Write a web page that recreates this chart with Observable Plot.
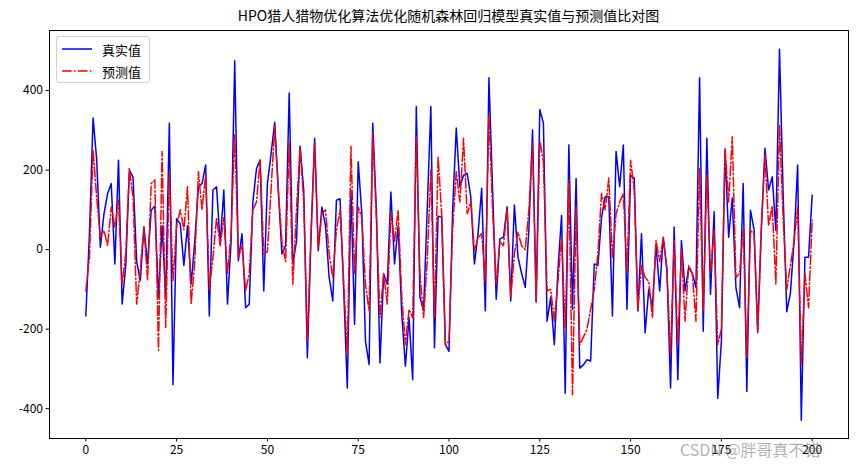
<!DOCTYPE html>
<html><head><meta charset="utf-8">
<script src="https://cdn.jsdelivr.net/npm/d3@7"></script>
<script src="https://cdn.jsdelivr.net/npm/@observablehq/plot@0.6"></script>
<style>
body{margin:0;background:#fff;}
#wrap{position:relative;width:865px;height:468px;font-family:"Noto Sans CJK SC","DejaVu Sans",sans-serif;color:#000;}
#title{position:absolute;left:49px;width:799px;top:7px;text-align:center;font-size:14px;line-height:16px;}
#legend{position:absolute;left:56px;top:36px;width:92px;height:45px;border:1px solid #d0d0d0;border-radius:3px;background:rgba(255,255,255,0.85);font-size:13px;}
.row{position:absolute;left:5px;height:18px;display:flex;align-items:center;}
.row span{margin-left:10px;}
#wm{position:absolute;left:680px;top:437px;font-size:16px;color:rgba(110,110,110,0.55);white-space:nowrap;}
</style>
</head><body>
<div id="wrap">
  <div id="chart"></div>
  <div id="title"></div>
  <div id="legend"></div>
  <div id="wm">CSDN @胖哥真不错</div>
</div>
<script>
const titleText = "HPO猎人猎物优化算法优化随机森林回归模型真实值与预测值比对图";
const seriesNames = ["真实值", "预测值"];
const xTicks = [0, 25, 50, 75, 100, 125, 150, 175, 200];
const yTicks = [-400, -200, 0, 200, 400];

const trueVals = [
-167,40,331,225,6,90,141,166,-36,225,
-137,-40,200,183,-30,-78,57,-36,99,110,
-120,60,-120,318,-340,78,65,-40,60,-87,
20,158,166,213,-167,150,158,14,150,-137,
20,475,-28,40,-146,-137,120,204,225,-104,
166,240,320,150,-11,10,394,-36,20,260,
150,-272,30,280,-3,107,60,-70,-129,124,
128,-100,-348,150,-188,221,90,-230,-289,318,
100,-285,-61,-87,145,-36,60,-163,-293,-171,
-327,360,-120,-154,100,360,-247,84,82,-239,
-256,100,306,158,187,192,133,-36,40,154,
-154,432,150,-125,27,31,107,-129,112,-19,
-60,-95,50,301,-129,352,318,-180,-120,-239,
-50,86,-361,263,-150,179,-298,-290,-277,-280,
-36,-40,80,133,133,-167,247,158,263,-150,
187,180,-154,40,-209,-100,-146,14,-104,31,
-50,-348,57,-327,23,-104,-45,-60,-95,432,
-205,280,-112,95,-374,-230,251,31,130,-95,
-146,166,-357,99,50,-205,50,255,150,183,
48,504,140,-156,-110,20,213,-429,-19,-19,
137];

const predVals = [
-104,-20,251,130,31,48,10,107,57,124,
-87,-10,204,132,-137,-50,57,-78,166,175,
-253,247,-196,196,-78,60,100,50,158,-137,
-30,196,100,190,-100,-20,80,10,80,-60,
40,289,-20,10,-104,-60,100,120,225,-11,
-5,150,310,150,20,-30,268,-87,100,259,
120,-230,40,268,6,90,100,-10,-70,50,
99,-80,-264,260,-60,107,80,-87,-154,293,
80,-171,-60,-137,90,20,99,-120,-239,-150,
-171,285,-60,-171,-30,200,-170,234,85,-239,
-230,50,196,120,280,90,120,-3,30,40,
-78,339,100,-87,20,10,107,-120,-10,44,
10,0,100,268,-133,276,220,-104,-100,-180,
-80,30,-196,175,-365,107,-240,-220,-200,-150,
-100,-10,141,100,180,-19,90,120,140,-53,
225,150,-150,-40,-70,-80,-171,23,-30,31,
-50,-264,23,-239,0,-180,-40,-60,-180,204,
-154,187,-60,48,-239,-200,255,120,284,-70,
-60,50,-272,48,40,-209,60,238,60,110,
-87,314,80,-100,-40,20,107,-289,-60,-146,
74];

const blue = "#0000ff", red = "#ff0000";
const dash = "9.6,2.4,1.5,2.4";

document.getElementById("title").textContent = titleText;

const chart = Plot.plot({
  width: 865, height: 468,
  marginTop: 30, marginLeft: 49, marginRight: 17, marginBottom: 30,
  style: {fontSize: "12px", fontFamily: '"Noto Sans CJK SC","DejaVu Sans",sans-serif', background: "white", color: "black"},
  x: {domain: [-10, 210], ticks: xTicks, tickSize: 3.5, tickPadding: 3, label: null, tickFormat: d => String(d)},
  y: {domain: [-475, 551], ticks: yTicks, tickSize: 3.5, tickPadding: 3, label: null, tickFormat: d => String(d)},
  marks: [
    Plot.lineY(trueVals, {x: (d, i) => i, y: d => d, stroke: blue, strokeWidth: 1.5}),
    Plot.lineY(predVals, {x: (d, i) => i, y: d => d, stroke: red, strokeWidth: 1.5, strokeDasharray: dash}),
    Plot.frame({stroke: "black", strokeWidth: 1})
  ]
});
document.getElementById("chart").appendChild(chart);

const leg = document.getElementById("legend");
[[seriesNames[0], blue, null], [seriesNames[1], red, dash]].forEach(([name, col, da], k) => {
  const row = document.createElement("div");
  row.className = "row";
  row.style.top = (3 + k * 22) + "px";
  row.innerHTML = `<svg width="30" height="10"><line x1="0" x2="30" y1="5" y2="5" stroke="${col}" stroke-width="1.5" ${da ? `stroke-dasharray="${da}"` : ""}/></svg><span>${name}</span>`;
  leg.appendChild(row);
});
</script>
</body></html>
